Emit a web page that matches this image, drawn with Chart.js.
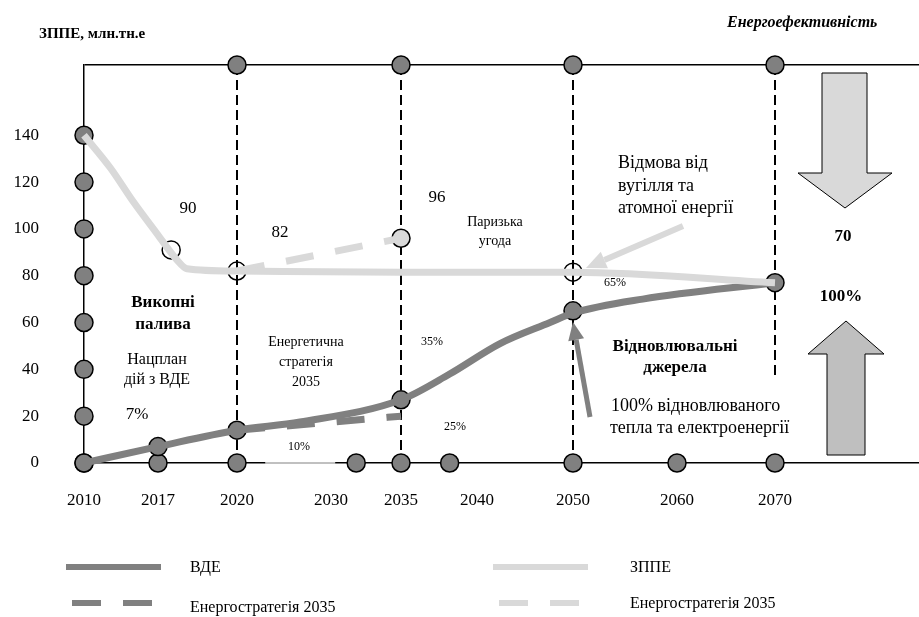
<!DOCTYPE html>
<html lang="uk">
<head>
<meta charset="utf-8">
<title>ЗППЕ та ВДЕ</title>
<script src="https://cdn.jsdelivr.net/npm/chart.js@4.4.1/dist/chart.umd.min.js"></script>
<style>
  html, body { margin: 0; padding: 0; background: #fff; }
  #wrap { position: relative; width: 919px; height: 617px; }
</style>
</head>
<body>
<div id="wrap"><canvas id="chart" width="919" height="617"></canvas></div>
<script>
// axis years and the slot each one sits at (the axis is not linear in years)
const tickYears = [2010, 2017, 2020, 2030, 2035, 2040, 2050, 2060, 2070];
const tickSlots = [0, 7.4, 15.3, 24.7, 31.7, 39.3, 48.9, 59.3, 69.1];
const yTicks = [0, 20, 40, 60, 80, 100, 120, 140];
const Y_TOP = 170;

// ЗППЕ, млн.тн.е
const zppeYears = [2010, 2012.5, 2014.6, 2016.9, 2017.7, 2018.1, 2020, 2035, 2050, 2070];
const zppeValues = [140, 126, 112, 98, 87, 83, 82, 81.5, 81.5, 77];
const zppeStratYears = [2020, 2035];
const zppeStratValues = [82, 96];

// ВДЕ
const vdeYears = [2010, 2017, 2020, 2026.7, 2035, 2038.2, 2042.4, 2047.6, 2050, 2056.7, 2070];
const vdeValues = [0, 7, 14, 17.5, 27, 38, 51, 60, 64, 70, 77];
const vdeStratYears = [2020, 2035];
const vdeStratValues = [14, 20];

// circles sitting on the curves
const zppeMarkYears = [2017.5, 2020, 2050];
const zppeMarkValues = [91, 82, 81.5];
const vdeMarkYears = [2017, 2020, 2035, 2050, 2070];
const vdeMarkValues = [7, 14, 27, 65, 77];

// circles on the frame
const topMarkYears = [2020, 2035, 2050, 2070];
const bottomMarkYears = [2010, 2017, 2020, 2031.8, 2035, 2038.2, 2050, 2060, 2070];
const milestoneYears = [2020, 2035, 2050, 2070];
const milestoneFrom = [0, 0, 0, 36];
const greySpanYears = [2023, 2030.3];

const DARK = '#808080';
const LIGHT = '#d9d9d9';

function slot(year) {
  for (let i = 1; i < tickYears.length; i++) {
    if (year <= tickYears[i]) {
      const t = (year - tickYears[i - 1]) / (tickYears[i] - tickYears[i - 1]);
      return tickSlots[i - 1] + t * (tickSlots[i] - tickSlots[i - 1]);
    }
  }
  return tickSlots[tickSlots.length - 1];
}
const pts = (xs, ys) => xs.map((x, i) => ({ x: slot(x), y: ys[i] }));

function curve(label, data, color, dash, order) {
  return {
    label, data, order,
    borderColor: color, borderWidth: 7, borderDash: dash || [],
    pointRadius: 0, pointHitRadius: 0,
    cubicInterpolationMode: 'monotone', clip: false
  };
}
function marks(data, fill, order) {
  return {
    data, order, showLine: false, clip: false,
    pointRadius: 9, pointBackgroundColor: fill,
    pointBorderColor: '#000', pointBorderWidth: 1.5
  };
}

const datasets = [
  curve('ЗППЕ', pts(zppeYears, zppeValues), LIGHT, null, 1),
  curve('ВДЕ', pts(vdeYears, vdeValues), DARK, null, 2),
  curve('Енергостратегія 2035', pts(zppeStratYears, zppeStratValues), LIGHT, [28, 22], 3),
  curve('Енергостратегія 2035', pts(vdeStratYears, vdeStratValues), DARK, [28, 22], 3),
  marks(pts(zppeMarkYears, zppeMarkValues), 'rgba(255,255,255,0)', 5),
  marks([{ x: slot(2035), y: zppeStratValues[1] }], LIGHT, 5),
  marks(pts(vdeMarkYears, vdeMarkValues), DARK, 5),
  marks(yTicks.map(v => ({ x: slot(2010), y: v })), DARK, 6),
  marks(topMarkYears.map(y => ({ x: slot(y), y: Y_TOP })), DARK, 6),
  marks(bottomMarkYears.map(y => ({ x: slot(y), y: 0 })), DARK, 6),
  {
    data: greySpanYears.map(y => ({ x: slot(y), y: 0 })), order: 7,
    borderColor: '#c0c0c0', borderWidth: 2, pointRadius: 0, clip: false
  }
];
// dashed milestone lines
milestoneYears.forEach((yr, i) => {
  datasets.push({
    data: [{ x: slot(yr), y: Y_TOP }, { x: slot(yr), y: milestoneFrom[i] }],
    order: 8, borderColor: '#000', borderWidth: 2, borderDash: [10, 5],
    pointRadius: 0, clip: false
  });
});

// text, arrows and legend drawn over the plot
function text(ctx, str, x, y, size, opts) {
  opts = opts || {};
  ctx.font = (opts.italic ? 'italic ' : '') + (opts.bold ? 'bold ' : '') + size + 'px "Liberation Serif", serif';
  ctx.textAlign = opts.align || 'center';
  ctx.textBaseline = 'middle';
  ctx.fillStyle = '#000';
  ctx.fillText(str, x, y);
}
function arrow(ctx, x1, y1, x2, y2, color, w, head, half) {
  const a = Math.atan2(y2 - y1, x2 - x1);
  const bx = x2 - head * Math.cos(a), by = y2 - head * Math.sin(a);
  ctx.strokeStyle = color; ctx.fillStyle = color; ctx.lineWidth = w;
  ctx.beginPath(); ctx.moveTo(x1, y1); ctx.lineTo(bx, by); ctx.stroke();
  ctx.beginPath();
  ctx.moveTo(x2, y2);
  ctx.lineTo(bx + half * Math.sin(a), by - half * Math.cos(a));
  ctx.lineTo(bx - half * Math.sin(a), by + half * Math.cos(a));
  ctx.closePath(); ctx.fill();
}
function block(ctx, pts, fill) {
  ctx.beginPath();
  pts.forEach((p, i) => i ? ctx.lineTo(p[0], p[1]) : ctx.moveTo(p[0], p[1]));
  ctx.closePath();
  ctx.fillStyle = fill; ctx.fill();
  ctx.strokeStyle = '#000'; ctx.lineWidth = 1; ctx.stroke();
}

const notes = {
  id: 'notes',
  afterDatasetsDraw(chart) {
    const ctx = chart.ctx;
    ctx.save();
    text(ctx, 'ЗППЕ, млн.тн.е', 39, 34, 15, { bold: true, align: 'left' });
    text(ctx, 'Енергоефективність', 727, 23, 16, { bold: true, italic: true, align: 'left' });

    text(ctx, '90', 188, 209, 17);
    text(ctx, '82', 280, 233, 17);
    text(ctx, '96', 437, 198, 17);
    text(ctx, 'Паризька', 495, 222, 14);
    text(ctx, 'угода', 495, 241, 14);
    text(ctx, 'Відмова від', 618, 163, 18, { align: 'left' });
    text(ctx, 'вугілля та', 618, 186, 18, { align: 'left' });
    text(ctx, 'атомної енергії', 618, 208, 18, { align: 'left' });
    text(ctx, '70', 843, 237, 17, { bold: true });
    text(ctx, '100%', 841, 297, 17, { bold: true });
    text(ctx, '65%', 615, 283, 12);
    text(ctx, 'Відновлювальні', 675, 347, 17, { bold: true });
    text(ctx, 'джерела', 675, 368, 17, { bold: true });
    text(ctx, '100% відновлюваного', 611, 406, 18, { align: 'left' });
    text(ctx, 'тепла та електроенергії', 610, 428, 18, { align: 'left' });
    text(ctx, 'Викопні', 163, 303, 17, { bold: true });
    text(ctx, 'палива', 163, 325, 17, { bold: true });
    text(ctx, 'Нацплан', 157, 360, 16);
    text(ctx, 'дій з ВДЕ', 157, 380, 16);
    text(ctx, '7%', 137, 415, 17);
    text(ctx, 'Енергетична', 306, 342, 14);
    text(ctx, 'стратегія', 306, 362, 14);
    text(ctx, '2035', 306, 382, 14);
    text(ctx, '10%', 299, 447, 12);
    text(ctx, '35%', 432, 342, 12);
    text(ctx, '25%', 455, 427, 12);

    arrow(ctx, 683, 226, 586, 268, LIGHT, 6, 20, 9);
    arrow(ctx, 590, 417, 573, 322, DARK, 5, 18, 8);

    block(ctx, [[822, 73], [867, 73], [867, 173], [892, 173], [845, 208], [798, 173], [822, 173]], LIGHT);
    block(ctx, [[827, 455], [865, 455], [865, 354], [884, 354], [846, 321], [808, 354], [827, 354]], '#bfbfbf');

    // legend
    const ds = chart.data.datasets;
    const legend = [
      [ds[1], 66, 567, 190], [ds[3], 66, 603, 190],
      [ds[0], 493, 567, 630], [ds[2], 493, 603, 630]
    ];
    legend.forEach(([d, x, y, tx]) => {
      ctx.strokeStyle = d.borderColor; ctx.lineWidth = 6;
      ctx.setLineDash(d.borderDash.length ? [29, 22] : []);
      ctx.lineDashOffset = d.borderDash.length ? -6 : 0;
      ctx.beginPath(); ctx.moveTo(x, y); ctx.lineTo(x + 95, y); ctx.stroke();
      ctx.setLineDash([]);
      text(ctx, d.label, tx, y + (d.borderDash.length && x < 100 ? 5 : 1), 16, { align: 'left' });
    });
    ctx.restore();
  }
};

Chart.defaults.font.family = '"Liberation Serif", "Times New Roman", serif';
Chart.defaults.color = '#000';

new Chart(document.getElementById('chart'), {
  type: 'line',
  data: { datasets },
  options: {
    responsive: false,
    animation: false,
    events: [],
    layout: { autoPadding: false, padding: { top: 65, right: 0, left: 0, bottom: 0 } },
    plugins: { legend: { display: false }, tooltip: { enabled: false } },
    scales: {
      x: {
        type: 'linear', min: 0, max: 83.5,
        afterBuildTicks: s => { s.ticks = tickSlots.map(v => ({ value: v })); },
        afterFit: s => { s.height = 154; s.paddingLeft = 0; s.paddingRight = 0; },
        ticks: {
          autoSkip: false, maxRotation: 0, padding: 27,
          font: { size: 17 },
          callback: (v, i) => tickYears[i]
        },
        grid: { display: false, drawTicks: false },
        border: { display: true, color: '#000', width: 1.5 }
      },
      y: {
        min: 0, max: Y_TOP,
        afterBuildTicks: s => { s.ticks = yTicks.concat([Y_TOP]).map(v => ({ value: v })); },
        afterFit: s => { s.width = 84; s.paddingTop = 0; s.paddingBottom = 0; },
        ticks: {
          padding: 45, font: { size: 17 },
          callback: v => v === Y_TOP ? '' : v
        },
        grid: {
          drawTicks: false, lineWidth: 1.5,
          color: c => (c.tick && c.tick.value === Y_TOP) ? '#000' : 'rgba(0,0,0,0)'
        },
        border: { display: true, color: '#000', width: 1.5 }
      }
    }
  },
  plugins: [notes]
});
</script>
</body>
</html>
